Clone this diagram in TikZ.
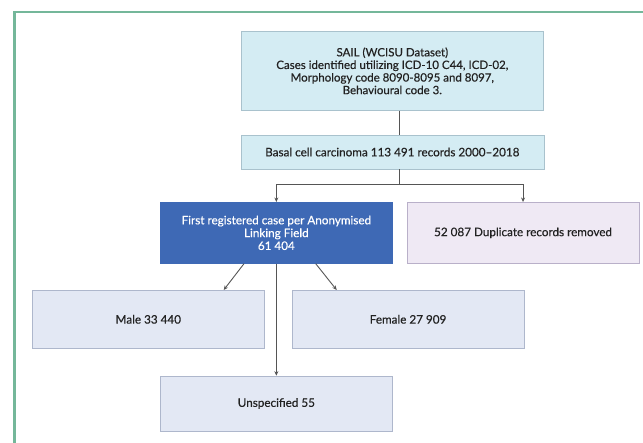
\documentclass[tikz,border=0pt]{standalone}
\usepackage{fontspec}
\setmainfont{Lato}
\newfontfamily\boxfont{Lato}[Ligatures=TeX, FakeBold=0.45]
\usepackage{xcolor}
\usepackage{tikz}
\usetikzlibrary{arrows.meta, positioning}

\definecolor{frameGreen}{HTML}{74B79A}
\definecolor{sailFill}{HTML}{D4ECF3}
\definecolor{sailEdge}{HTML}{A9C2CD}
\definecolor{firstFill}{HTML}{3E69B5}
\definecolor{dupFill}{HTML}{EFE9F4}
\definecolor{dupEdge}{HTML}{B9B0C9}
\definecolor{sexFill}{HTML}{E3E8F4}
\definecolor{sexEdge}{HTML}{AEB7CC}
\definecolor{lineGray}{HTML}{555555}
\definecolor{textGray}{HTML}{222222}

\begin{document}
\begin{tikzpicture}[
  x=1pt, y=1pt,
  node distance=24pt and 14pt,
  box/.style={rectangle, draw, line width=0.7pt, inner sep=2pt,
              minimum width=232pt, minimum height=58pt, align=center,
              text=textGray, font=\boxfont\fontsize{11.7}{12.8}\selectfont},
  line/.style={draw=lineGray, line width=0.9pt},
  arr/.style={line, -{Stealth[length=4.5pt, width=4pt]}},
]
\useasboundingbox (0,0) rectangle (643,-443);

% frame round the figure
\draw[frameGreen, line width=2.6pt] (14.5,-450) -- (14.5,-12) -- (650,-12);

\node[box, fill=sailFill, draw=sailEdge, minimum width=302pt, minimum height=79pt,
      anchor=north west, font=\boxfont\fontsize{11.5}{12.6}\selectfont] (sail) at (241,-31)
  {SAIL (WCISU Dataset)\\Cases identified utilizing ICD-10 C44, ICD-02,\\
   Morphology code 8090-8095 and 8097,\\Behavioural code 3.};
\node[box, fill=sailFill, draw=sailEdge, minimum width=303pt, minimum height=34pt,
      below=24pt of sail] (basal)
  {Basal cell carcinoma 113 491 records 2000--2018};
\node[box, fill=firstFill, draw=firstFill, minimum height=61pt, text=white,
      anchor=north west] (first) at (160,-202)
  {First registered case per Anonymised\\Linking Field\\61 404};
\node[box, fill=dupFill, draw=dupEdge, minimum height=61pt,
      right=14pt of first] (dup)
  {52 087 Duplicate records removed};
\node[box, fill=sexFill, draw=sexEdge, anchor=north west] (male) at (32,-290)
  {Male 33 440};
\node[box, fill=sexFill, draw=sexEdge, right=27pt of male] (female)
  {Female 27 909};
\node[box, fill=sexFill, draw=sexEdge, minimum height=55pt,
      below=112pt of first] (unspec) {Unspecified 55};

% trunk and split
\coordinate (trunk) at (399,-110);
\coordinate (split) at (399,-184);

\draw[line] (sail.south -| trunk) -- (basal.north -| trunk);
\draw[line] (basal.south -| split) -- (split);
\draw[arr] (split) -| (first.north);
\draw[arr] (split) -| (dup.north);
\draw[arr] ([xshift=84pt]first.south west) -- ([xshift=-41pt]male.north east);
\draw[arr] ([xshift=-77pt]first.south east) -- ([xshift=45pt]female.north west);
\draw[arr] (first.south) -- (unspec.north);
\end{tikzpicture}
\end{document}
